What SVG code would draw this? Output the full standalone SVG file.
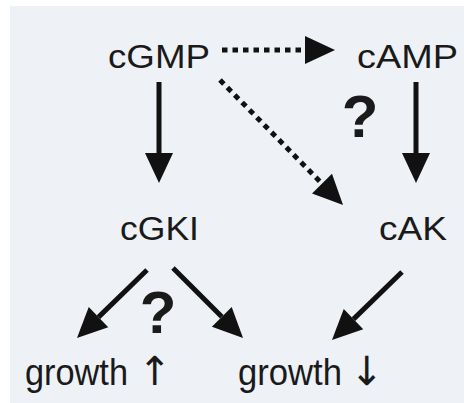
<svg xmlns="http://www.w3.org/2000/svg" width="464" height="403" viewBox="0 0 464 403">
<defs>
<style>
.lbl{font-family:"Liberation Sans",Arial,sans-serif;font-size:34px;fill:#1a1a1a}
.gr{font-family:"Liberation Sans",Arial,sans-serif;font-size:37px;fill:#1a1a1a}
.ar{font-family:"DejaVu Sans","Liberation Sans",sans-serif;font-size:40px;fill:#1a1a1a}
.q{font-family:"Liberation Sans",Arial,sans-serif;font-weight:bold;font-size:60px;fill:#1a1a1a;text-anchor:middle}
.solid{stroke:#111;stroke-width:5;fill:none;marker-end:url(#head)}
.dot{stroke:#111;stroke-width:5;fill:none;stroke-dasharray:5.5 5;marker-end:url(#head)}
</style>
<marker id="head" markerUnits="userSpaceOnUse" markerWidth="31" markerHeight="30" refX="0" refY="14" orient="auto" overflow="visible">
<path d="M0,0 L30,14 L0,28 Z" fill="#111"/>
</marker>
</defs>
<rect x="10" y="6" width="454" height="397" fill="#eef2f6"/>
<g id="connectors">
<line class="solid" x1="159" y1="82" x2="159" y2="153"/>
<line class="solid" x1="416" y1="82" x2="416" y2="153"/>
<line class="dot" x1="222" y1="50" x2="305" y2="50"/>
<line class="dot" x1="220" y1="80" x2="322" y2="183.6"/>
<line class="solid" x1="147" y1="270" x2="98.5" y2="317.1"/>
<line class="solid" x1="173" y1="268" x2="221.8" y2="316.8"/>
<line class="solid" x1="402" y1="272" x2="353.5" y2="319.1"/>
</g>
<g id="cGMP"><text class="lbl" x="108" y="68" textLength="102" lengthAdjust="spacingAndGlyphs">cGMP</text></g>
<g id="cAMP"><text class="lbl" x="357" y="68" textLength="101" lengthAdjust="spacingAndGlyphs">cAMP</text></g>
<g id="cGKI"><text class="lbl" x="120" y="240" textLength="79" lengthAdjust="spacingAndGlyphs">cGKI</text></g>
<g id="cAK"><text class="lbl" x="379" y="240" textLength="68" lengthAdjust="spacingAndGlyphs">cAK</text></g>
<g id="growth-up"><text x="25" y="385"><tspan class="gr" textLength="103" lengthAdjust="spacingAndGlyphs">growth</tspan><tspan class="ar" x="138">↑</tspan></text></g>
<g id="growth-down"><text x="238" y="385"><tspan class="gr" textLength="104" lengthAdjust="spacingAndGlyphs">growth</tspan><tspan class="ar" x="350">↓</tspan></text></g>
<g id="q1"><text class="q" x="360" y="137">?</text></g>
<g id="q2"><text class="q" x="158" y="333">?</text></g>
</svg>
